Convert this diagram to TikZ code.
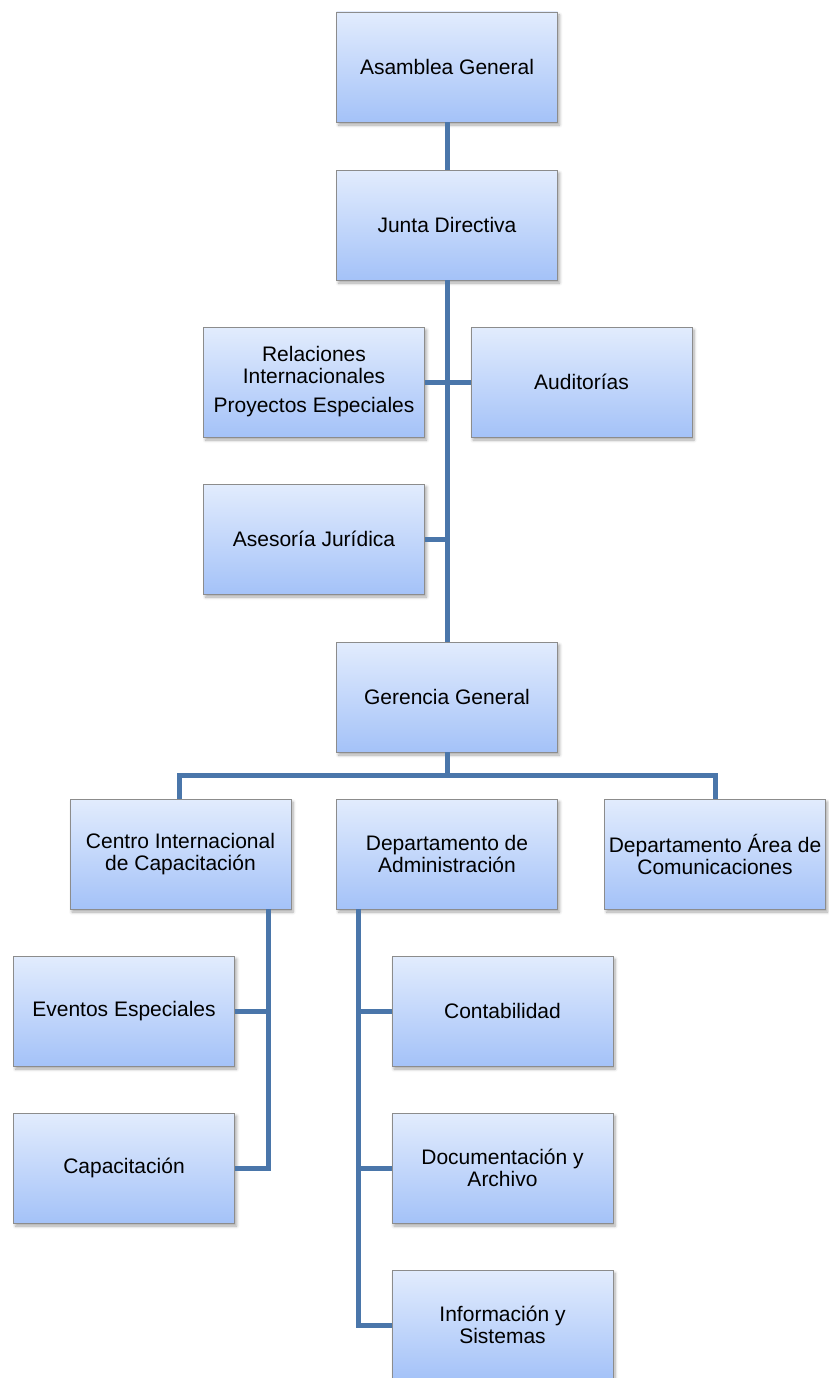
\documentclass[tikz,border=0pt]{standalone}
\usepackage{fontspec}
\setmainfont{Liberation Sans}
\usetikzlibrary{shadows.blur}
\definecolor{topc}{HTML}{E2ECFD}
\definecolor{botc}{HTML}{A4C2F8}
\definecolor{edgec}{HTML}{8C8C8C}
\definecolor{linec}{HTML}{4A76AA}
\tikzset{
  orgbox/.style={rectangle, draw=edgec, line width=0.9pt, top color=topc, bottom color=botc,
    minimum width=221pt, minimum height=110pt, inner sep=2pt, align=center,
    font=\fontsize{21}{22}\selectfont,
    blur shadow={shadow xshift=2pt, shadow yshift=-3pt, shadow blur steps=6, shadow opacity=35, shadow blur radius=3pt}},
  conn/.style={draw=linec, line width=5pt}
}
\begin{document}
\begin{tikzpicture}[x=1pt,y=-1pt]
\useasboundingbox (0,0) rectangle (828,1378);
\coordinate (ja) at (447,539);
\coordinate (gb) at (447,775);
\coordinate (gl) at (179,775);
\coordinate (gr) at (715,775);
\coordinate (cb) at (268,1168);
\coordinate (db) at (358,1325);
% nodes
\node[orgbox] (asam) at (447,67) {Asamblea General};
\node[orgbox] (junta) at (447,225) {Junta Directiva};
\node[orgbox] (rel) at (314,382) {Relaciones\\Internacionales\\[7pt]Proyectos Especiales};
\node[orgbox] (aud) at (581.5,382) {Auditorías};
\node[orgbox] (ases) at (314,539) {Asesoría Jurídica};
\node[orgbox] (ger) at (447,697) {Gerencia General};
\node[orgbox] (centro) at (180.5,854) {Centro Internacional\\de Capacitación};
\node[orgbox] (dadm) at (447,854) {Departamento de\\Administración};
\node[orgbox] (dare) at (715,854) {Departamento Área de\\Comunicaciones};
\node[orgbox] (evt) at (124,1011) {Eventos Especiales};
\node[orgbox] (cap) at (124,1168) {Capacitación};
\node[orgbox] (cont) at (502.5,1011) {Contabilidad};
\node[orgbox] (doc) at (502.5,1168) {Documentación y\\Archivo};
\node[orgbox] (info) at (502.5,1325) {Información y\\Sistemas};
% connectors
\draw[conn] (asam.south) -- (junta.north);
\draw[conn] (junta.south) -- (ger.north);
\draw[conn] (rel.east) -- (aud.west);
\draw[conn] (ases.east) -- (ja);
\draw[conn] (ger.south) -- (gb);
\draw[conn] (gl |- centro.north) -- (gl) -- (gr) -- (gr |- dare.north);
\draw[conn] (cb |- centro.south) -- (cb) -- (cap.east);
\draw[conn] (evt.east) -- (evt.east -| cb);
\draw[conn] (db |- dadm.south) -- (db) -- (info.west);
\draw[conn] (cont.west) -- (cont.west -| db);
\draw[conn] (doc.west) -- (doc.west -| db);
\end{tikzpicture}
\end{document}
